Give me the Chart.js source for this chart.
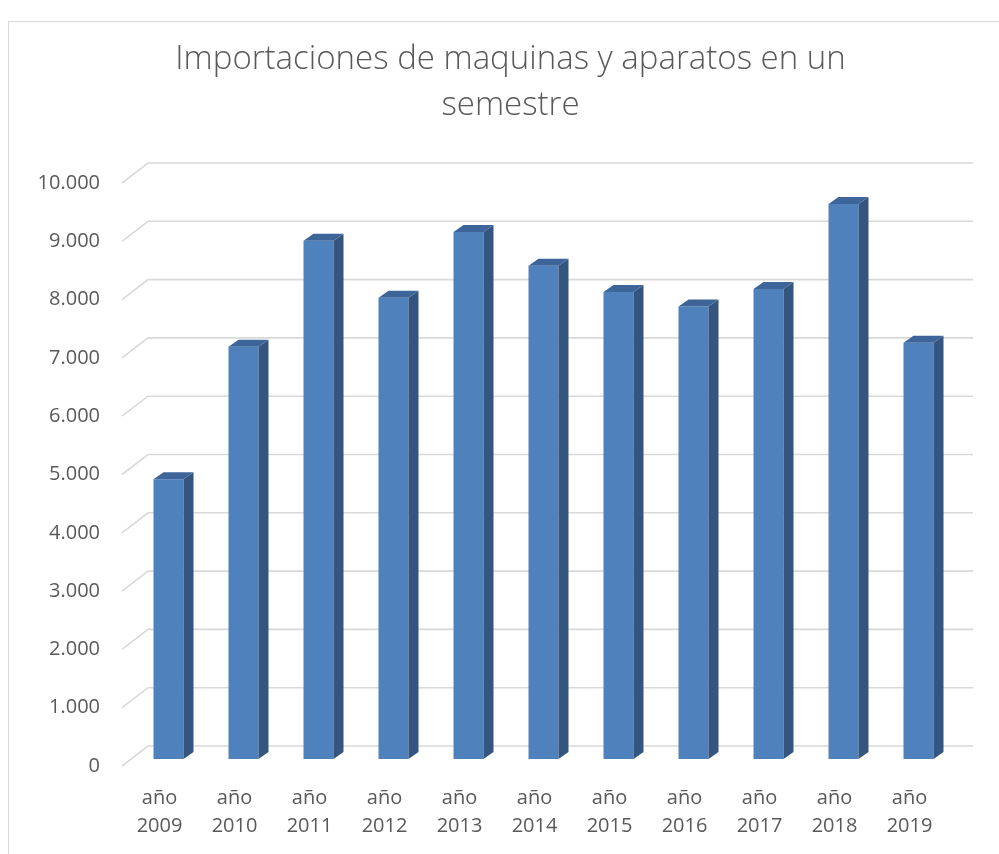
<!DOCTYPE html>
<html>
<head>
<meta charset="utf-8">
<script src="https://cdn.jsdelivr.net/npm/chart.js@4"></script>
<style>
  html, body { margin: 0; padding: 0; background: #fff; width: 999px; height: 854px; overflow: hidden; }
  #frame { position: absolute; left: 8px; top: 21px; width: 1000px; height: 900px; border: 1px solid #d9d9d9; box-sizing: border-box; }
  #wrap { position: absolute; left: 0; top: 0; width: 999px; height: 854px; }
</style>
</head>
<body>
<div id="frame"></div>
<div id="wrap"><canvas id="c"></canvas></div>
<script>
const titleLines = ['Importaciones de maquinas y aparatos en un', 'semestre'];
const years = ['2009', '2010', '2011', '2012', '2013', '2014', '2015', '2016', '2017', '2018', '2019'];
const categories = years.map(y => ['año', y]);
const importaciones = [4800, 7070, 8890, 7910, 9040, 8460, 8010, 7760, 8060, 9520, 7140];
const yTicks = [0, 1000, 2000, 3000, 4000, 5000, 6000, 7000, 8000, 9000, 10000];

const DEPTH_X = 10, DEPTH_Y = 7;
const fmt = v => v === 0 ? '0' : String(v).replace(/\B(?=(\d{3})+(?!\d))/g, '.');

const perspectiveGrid = {
  id: 'perspectiveGrid',
  beforeDatasetsDraw(chart) {
    const ctx = chart.ctx, y = chart.scales.y, a = chart.chartArea;
    ctx.save();
    ctx.strokeStyle = '#d9d9d9';
    ctx.lineWidth = 1.6;
    yTicks.forEach(v => {
      const py = y.getPixelForValue(v);
      ctx.beginPath();
      ctx.moveTo(a.left - 9, py + 7);
      ctx.lineTo(a.left + 17, py - 13);
      ctx.lineTo(a.right + 17, py - 13);
      ctx.stroke();
    });
    ctx.restore();
  }
};

const bars3d = {
  id: 'bars3d',
  afterDatasetsDraw(chart) {
    const ctx = chart.ctx;
    const meta = chart.getDatasetMeta(0);
    ctx.save();
    meta.data.forEach(bar => {
      const p = bar.getProps(['x', 'y', 'base', 'width'], true);
      const l = p.x - p.width / 2, r = p.x + p.width / 2;
      ctx.fillStyle = '#34557f';
      ctx.beginPath();
      ctx.moveTo(r, p.y);
      ctx.lineTo(r + DEPTH_X, p.y - DEPTH_Y);
      ctx.lineTo(r + DEPTH_X, p.base - DEPTH_Y);
      ctx.lineTo(r, p.base);
      ctx.closePath();
      ctx.fill();
      ctx.fillStyle = '#3e659a';
      ctx.beginPath();
      ctx.moveTo(l, p.y);
      ctx.lineTo(l + DEPTH_X, p.y - DEPTH_Y);
      ctx.lineTo(r + DEPTH_X, p.y - DEPTH_Y);
      ctx.lineTo(r, p.y);
      ctx.closePath();
      ctx.fill();
    });
    ctx.restore();
  }
};

new Chart(document.getElementById('c'), {
  type: 'bar',
  data: {
    labels: categories,
    datasets: [{
      label: 'Importaciones',
      data: importaciones,
      backgroundColor: '#4f81bd',
      borderWidth: 0,
      barPercentage: 0.4,
      categoryPercentage: 1.0
    }]
  },
  options: {
    responsive: true,
    maintainAspectRatio: false,
    animation: false,
    layout: { padding: { left: 22, right: 0, top: 0, bottom: 0 } },
    plugins: {
      legend: { display: false },
      tooltip: { enabled: false },
      title: {
        display: true,
        text: titleLines,
        color: '#595959',
        font: { family: 'Open Sans', size: 33, weight: '300', lineHeight: 1.4 },
        padding: { top: 36, bottom: 47.6 }
      }
    },
    scales: {
      x: {
        grid: { display: false, drawTicks: false, drawOnChartArea: false },
        border: { display: false },
        ticks: {
          color: '#595959',
          font: { family: 'Open Sans', size: 20, lineHeight: 1.4 },
          padding: 25,
          labelOffset: -9,
          maxRotation: 0,
          autoSkip: false
        },
        afterFit: s => { s.height = 95; }
      },
      y: {
        min: 0,
        max: 10000,
        grid: { display: false, drawTicks: false },
        border: { display: false },
        ticks: {
          stepSize: 1000,
          color: '#595959',
          font: { family: 'Open Sans', size: 20 },
          padding: 31,
          labelOffset: 7,
          callback: v => fmt(v)
        },
        afterFit: s => { s.width = 109; }
      },
      yRight: {
        position: 'right',
        min: 0,
        max: 10000,
        grid: { display: false, drawTicks: false },
        border: { display: false },
        ticks: { display: false },
        afterFit: s => { s.width = 43; }
      }
    }
  },
  plugins: [perspectiveGrid, bars3d]
});
</script>
</body>
</html>
